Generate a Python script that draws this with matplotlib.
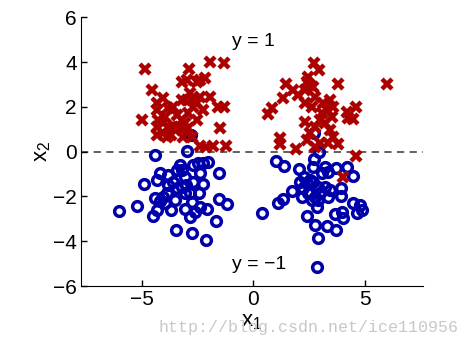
import numpy as np
import matplotlib
matplotlib.use('Agg')
import matplotlib.pyplot as plt

plt.rcParams['font.family'] = ['Liberation Sans', 'DejaVu Sans']
plt.rcParams['mathtext.default'] = 'regular'

# kelas y = 1 (silang merah)
pos_x1 = [-4.84, -2.89, -1.95, -1.30, -4.54, -4.07, -4.99, -3.22, -2.99, -2.40,
          -2.17, -2.54, -1.95, -1.57, -1.30, -1.50, -1.23, -1.80, -2.10, -2.40,
          -4.34, -4.27, -4.34, -4.34, -4.04, -3.82, -3.59, -3.44, -3.59, -3.67,
          -3.22, -3.22, -3.14, -2.99, -2.84, -2.77, -2.69, -2.92, -3.07, -3.37,
          -2.54, -2.40, -2.25, -3.22, -3.97, -4.04, -3.82, -3.89, -2.92, -2.77,
          -2.54, -4.34,
          2.74, 2.96, 2.47, 2.40, 2.54, 3.82, 6.02, 1.47, 1.80, 1.32,
          2.02, 2.32, 2.69, 2.77, 2.32, 2.62, 0.82, 0.67, 3.44, 3.59,
          3.29, 3.07, 3.52, 3.22, 3.44, 3.59, 3.37, 3.82, 2.99, 2.77,
          2.32, 2.54, 2.40, 2.77, 4.19, 4.61, 4.49, 4.27, 1.20, 1.20,
          1.92, 4.60, 4.04, 3.14, 2.99]
pos_x2 = [3.69, 3.69, 4.02, 3.97, 2.75, 2.38, 1.41, 3.13, 3.20, 3.20,
          3.27, 3.13, 2.46, 2.01, 1.98, 1.04, 0.27, 0.27, 0.22, 0.27,
          1.86, 1.41, 1.12, 0.74, 0.82, 1.93, 2.01, 1.64, 1.12, 0.74,
          1.41, 0.97, 0.67, 2.31, 2.60, 2.31, 2.01, 1.71, 1.26, 1.12,
          2.16, 2.46, 1.86, 2.31, 1.56, 1.26, 1.12, 0.67, 1.04, 0.67,
          1.41, 2.16,
          3.94, 3.65, 3.35, 3.13, 2.98, 3.00, 3.00, 3.00, 2.75, 2.41,
          2.53, 2.75, 2.90, 2.46, 2.16, 2.01, 1.93, 1.68, 2.31, 2.01,
          1.86, 1.71, 1.56, 1.26, 0.97, 0.67, 0.37, 0.34, 1.41, 1.12,
          1.34, 0.82, 0.52, 0.22, 1.79, 2.01, 1.44, 1.49, 0.60, 0.34,
          0.10, -0.18, -1.15, 2.16, 0.37]

# kelas y = -1 (lingkaran biru)
neg_x1 = [-6.03, -5.24, -4.91, -4.42, -2.96, -2.81, -4.19, -4.31, -3.82, -3.44,
          -3.29, -3.22, -3.07, -2.69, -2.47, -2.25, -2.02, -2.40, -2.69, -2.25,
          -2.43, -1.54, -3.59, -3.44, -3.22, -3.00, -2.84, -3.07, -3.89, -4.04,
          -4.42, -4.19, -4.34, -4.49, -3.97, -3.67, -3.52, -3.07, -2.77, -2.62,
          -2.84, -2.40, -2.07, -1.54, -1.20, -1.69, -3.47, -2.77, -2.10, -3.82,
          0.40, 1.02, 1.38, 1.12, 1.32, 1.75, 2.05, 2.28, 2.10, 2.40,
          2.69, 2.25, 2.47, 2.77, 2.92, 2.99, 3.22, 3.07, 3.22, 3.37,
          3.71, 4.22, 4.46, 3.95, 3.92, 3.44, 3.34, 2.69, 2.74, 2.96,
          2.74, 2.84, 2.43, 2.77, 3.32, 3.70, 2.92, 2.84, 3.67, 3.97,
          4.04, 4.49, 4.79, 4.87, 4.64, 2.54, 2.92, 2.62, 2.17]
neg_x2 = [-2.63, -2.41, -1.44, -0.15, 0.04, 0.74, -0.97, -1.26, -1.04, -0.82,
          -0.60, -0.82, -1.12, -0.60, -0.52, -0.52, -0.48, -0.97, -1.34, -1.46,
          -1.83, -0.97, -1.34, -1.64, -1.56, -1.49, -1.86, -1.86, -1.86, -2.01,
          -2.05, -2.20, -2.60, -2.86, -2.31, -2.60, -2.16, -2.57, -2.23, -2.68,
          -2.90, -2.46, -2.57, -2.13, -2.34, -3.10, -3.50, -3.62, -3.94, -1.49,
          -2.75, -0.42, -0.63, -2.31, -2.11, -1.76, -0.77, -1.12, -1.34, -1.41,
          -1.34, -1.64, -1.86, -2.01, -2.16, -1.86, -1.56, -0.97, -0.67, -0.89,
          -0.74, -0.67, -1.09, -1.64, -1.98, -1.71, -2.01, -0.67, -0.33, 0.00,
          0.82, -2.46, -2.87, -3.27, -3.32, -3.50, -3.87, -5.13, -2.80, -2.68,
          -2.98, -2.28, -2.38, -2.60, -2.75, -1.27, -1.56, -2.16, -2.01]

fig = plt.figure(figsize=(4.7, 3.45), dpi=100)
ax = fig.add_axes([0.172, 0.171, 0.727, 0.779])

ax.plot(neg_x1, neg_x2, 'o', ms=7, mfc='none', mec='#0000aa', mew=2.5)
ax.plot(pos_x1, pos_x2, 'x', ms=7, color='#aa0000', mew=3.2)
ax.axhline(0, color='#555555', ls=(0, (4, 3)), lw=1.3, zorder=0)

ax.text(-0.94, 4.9, 'y = 1', fontsize=14, ha='left', va='center')
ax.text(-0.94, -5.06, 'y = \u22121', fontsize=14, ha='left', va='center')

ax.set_xlim(-7.74, 7.6)
ax.set_ylim(-6, 6)
ax.set_xticks([-5, 0, 5])
ax.set_yticks([-6, -4, -2, 0, 2, 4, 6])
ax.set_xticklabels(['\u22125', '0', '5'])
ax.set_yticklabels(['\u22126', '\u22124', '\u22122', '0', '2', '4', '6'])
ax.tick_params(direction='in', labelsize=15, length=4, width=1, pad=3)
ax.spines['top'].set_visible(False)
ax.spines['right'].set_visible(False)
ax.set_xlabel('$x_1$', fontsize=16, labelpad=1)
ax.set_ylabel('$x_2$', fontsize=16, labelpad=0)

# tanda air
fig.text(0.975, 0.03, 'http://blog.csdn.net/ice110956', fontsize=12,
         family='Liberation Mono', color='#c8c8c8', ha='right', va='bottom')

fig.savefig('out.png', dpi=100)
